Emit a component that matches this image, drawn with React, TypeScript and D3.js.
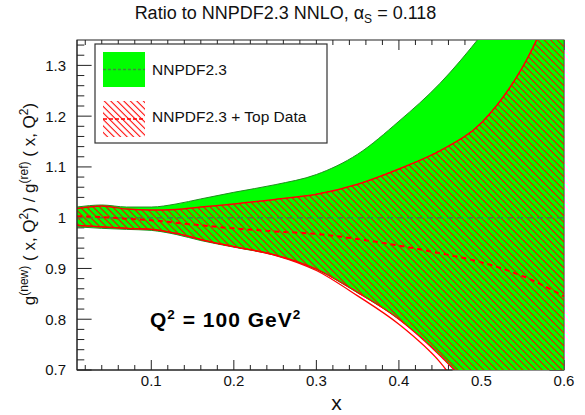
import React from 'react';
import * as d3 from 'd3';

// ---- data ----
const xGrid = [0.01, 0.04, 0.07, 0.1, 0.13, 0.16, 0.2, 0.25, 0.3, 0.35, 0.4, 0.45, 0.5, 0.55, 0.6];
const nnpdfUpper = [1.021, 1.025, 1.021, 1.021, 1.027, 1.037, 1.05, 1.065, 1.085, 1.125, 1.19, 1.265, 1.36, 1.47, 1.6];
const nnpdfLower = [0.982, 0.979, 0.977, 0.975, 0.967, 0.955, 0.942, 0.926, 0.898, 0.852, 0.8, 0.73, 0.64, 0.52, 0.4];
const nnpdfCentral = [1, 1, 1, 1, 1, 1, 1, 1, 1, 1, 1, 1, 1, 1, 1];
const topUpper = [1.018, 1.023, 1.017, 1.015, 1.016, 1.021, 1.027, 1.036, 1.046, 1.066, 1.096, 1.132, 1.187, 1.297, 1.47];
const topLower = [0.985, 0.982, 0.979, 0.977, 0.969, 0.957, 0.943, 0.927, 0.899, 0.853, 0.8, 0.728, 0.64, 0.52, 0.4];
const topLowerEdge = [0.985, 0.982, 0.979, 0.977, 0.969, 0.957, 0.943, 0.926, 0.896, 0.846, 0.79, 0.715, 0.6, 0.48, 0.36];
const topCentral = [1.003, 1.001, 0.998, 0.995, 0.99, 0.985, 0.979, 0.973, 0.968, 0.958, 0.945, 0.93, 0.912, 0.885, 0.845];

const xTickValues = [0.1, 0.2, 0.3, 0.4, 0.5, 0.6];
const xTickLabels = ['0.1', '0.2', '0.3', '0.4', '0.5', '0.6'];
const yTickValues = [0.7, 0.8, 0.9, 1.0, 1.1, 1.2, 1.3];
const yTickLabels = ['0.7', '0.8', '0.9', '1', '1.1', '1.2', '1.3'];
const legendLabels = ['NNPDF2.3', 'NNPDF2.3 + Top Data'];

const L = 77, R = 564, T = 40, B = 370;
const FONT = '"Liberation Sans", Arial, Helvetica, sans-serif';

export default function App() {
  const x = d3.scaleLinear().domain([0.01, 0.6]).range([L, R]);
  const y = d3.scaleLinear().domain([0.7, 1.35]).range([B, T]);

  const band = (lo: number[], hi: number[]) =>
    d3.area<number>()
      .x((_, i) => x(xGrid[i]))
      .y0((_, i) => y(lo[i]))
      .y1((_, i) => y(hi[i]))
      .curve(d3.curveMonotoneX)(xGrid) as string;
  const line = (vals: number[]) =>
    d3.line<number>()
      .x((_, i) => x(xGrid[i]))
      .y((_, i) => y(vals[i]))
      .curve(d3.curveMonotoneX)(xGrid) as string;

  const xMinor = d3.range(1, 31).map(i => i * 0.02).filter(v => v <= 0.6001);
  const yMinor = d3.range(0, 33).map(i => 0.7 + i * 0.02).filter(v => v <= 1.3501);

  const xMajLen = 10, xMinLen = 5, yMajLen = 14.6, yMinLen = 7.3;
  const tickColor = '#222';

  return (
    <svg width={585} height={415} style={{ position: 'absolute', left: 0, top: 0, background: '#fff' }} fontFamily={FONT}>
      <defs>
        <clipPath id="plot">
          <rect x={L} y={T} width={R - L} height={B - T} />
        </clipPath>
        <pattern id="hatch" patternUnits="userSpaceOnUse" width={4.6} height={10} patternTransform="rotate(-45)">
          <line x1={2.3} y1={0} x2={2.3} y2={10} stroke="#ff0000" strokeWidth={1.1} />
        </pattern>
      </defs>

      {/* frame and ticks (under the bands) */}
      <rect x={L} y={T} width={R - L} height={B - T} fill="none" stroke={tickColor} strokeWidth={1} />
      {xMinor.map((v, i) => {
        const major = xTickValues.some(t => Math.abs(t - v) < 1e-6);
        const len = major ? xMajLen : xMinLen;
        return (
          <g key={'xt' + i} stroke={tickColor} strokeWidth={1}>
            <line x1={x(v)} x2={x(v)} y1={B} y2={B - len} />
            <line x1={x(v)} x2={x(v)} y1={T} y2={T + len} />
          </g>
        );
      })}
      {yMinor.map((v, i) => {
        const major = yTickValues.some(t => Math.abs(t - v) < 1e-6);
        const len = major ? yMajLen : yMinLen;
        return (
          <g key={'yt' + i} stroke={tickColor} strokeWidth={1}>
            <line x1={L} x2={L + len} y1={y(v)} y2={y(v)} />
            <line x1={R} x2={R - len} y1={y(v)} y2={y(v)} />
          </g>
        );
      })}

      {/* bands */}
      <g clipPath="url(#plot)">
        <path d={band(nnpdfLower, nnpdfUpper)} fill="#00ff00" stroke="#1f8f1f" strokeWidth={1} />
        <path d={band(topLower, topUpper)} fill="url(#hatch)" stroke="none" />
        <path d={line(topUpper)} fill="none" stroke="#ff0000" strokeWidth={1.5} />
        <path d={line(topLower)} fill="none" stroke="#ff0000" strokeWidth={1.3} />
        <path d={line(topLowerEdge)} fill="none" stroke="#ff0000" strokeWidth={1.3} />
        <path d={line(nnpdfCentral)} fill="none" stroke="#3d8a3d" strokeWidth={1.6} strokeDasharray="6,4" />
        <path d={line(topCentral)} fill="none" stroke="#ff0000" strokeWidth={2} strokeDasharray="5,4" />
      </g>
      <line x1={L} x2={L} y1={T} y2={B} stroke={tickColor} strokeWidth={1} />
      <line x1={L} x2={x(0.465)} y1={B} y2={B} stroke={tickColor} strokeWidth={1} />

      {/* tick labels */}
      {xTickValues.map((v, i) => (
        <text key={'xl' + i} x={x(v)} y={386} fontSize={15} textAnchor="middle" fill="#111">{xTickLabels[i]}</text>
      ))}
      {yTickValues.map((v, i) => (
        <text key={'yl' + i} x={66} y={y(v)} dy="0.36em" fontSize={15} textAnchor="end" fill="#111">{yTickLabels[i]}</text>
      ))}

      {/* axis titles */}
      <text x={336.5} y={410} fontSize={21} textAnchor="middle" fill="#111">x</text>
      <text transform="translate(35,204) rotate(-90)" fontSize={17} textAnchor="middle" fill="#111">
        g<tspan fontSize={12} dy={-7.5}>(new)</tspan>
        <tspan dy={7.5}> ( x, Q</tspan><tspan fontSize={12} dy={-7.5}>2</tspan>
        <tspan dy={7.5}>) / g</tspan><tspan fontSize={12} dy={-7.5}>(ref)</tspan>
        <tspan dy={7.5}> ( x, Q</tspan><tspan fontSize={12} dy={-7.5}>2</tspan>
        <tspan dy={7.5}>)</tspan>
      </text>

      {/* title */}
      <text x={285.5} y={19} fontSize={18} fill="#111" textAnchor="middle">
        Ratio to NNPDF2.3 NNLO, α<tspan fontSize={12} dy={4}>S</tspan><tspan dy={-4}> = 0.118</tspan>
      </text>

      {/* Q2 label */}
      <text x={150} y={327} fontSize={21} fontWeight="bold" fill="#000" letterSpacing={1}>
        Q<tspan fontSize={13.5} dy={-8.5}>2</tspan><tspan dy={8.5}> = 100 GeV</tspan><tspan fontSize={13.5} dy={-8.5}>2</tspan>
      </text>

      {/* legend */}
      <rect x={95} y={44} width={232} height={99} fill="#fff" stroke="#333" strokeWidth={1.2} />
      <rect x={103} y={52} width={42} height={35} fill="#00ff00" />
      <line x1={103} x2={145} y1={69.5} y2={69.5} stroke="#3d8a3d" strokeWidth={1.3} strokeDasharray="3,2" />
      <rect x={103} y={101} width={42} height={36} fill="url(#hatch)" />
      <line x1={103} x2={145} y1={119} y2={119} stroke="#ff0000" strokeWidth={1.5} strokeDasharray="4,2" />
      <text x={152} y={75} fontSize={15.5} fill="#111">{legendLabels[0]}</text>
      <text x={152} y={122} fontSize={15.5} fill="#111">{legendLabels[1]}</text>
    </svg>
  );
}
